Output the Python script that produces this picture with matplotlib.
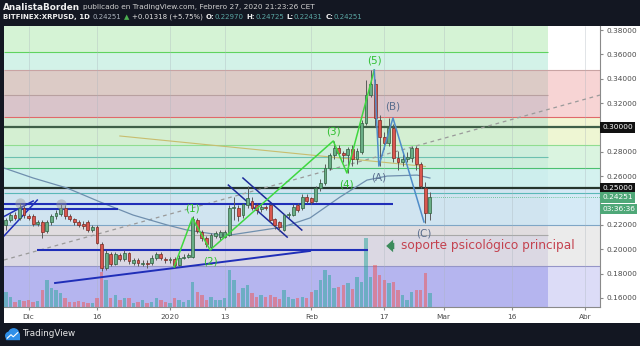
#!/usr/bin/env python3
import matplotlib
matplotlib.use("Agg")
import matplotlib.pyplot as plt
from matplotlib.transforms import blended_transform_factory
from matplotlib.patches import Rectangle, Circle

# Velas diarias XRPUSD (dia 0 = 1 de diciembre de 2019)
dias = list(range(-5, 89))
apertura = [0.220, 0.224, 0.228, 0.226, 0.234, 0.227, 0.227, 0.221, 0.222, 0.215,
            0.222, 0.227, 0.229, 0.234, 0.227, 0.225, 0.222, 0.221, 0.222, 0.216,
            0.218, 0.204, 0.185, 0.196, 0.188, 0.195, 0.192, 0.197, 0.189, 0.191,
            0.188, 0.189, 0.189, 0.193, 0.196, 0.192, 0.191, 0.192, 0.187, 0.193,
            0.194, 0.194, 0.224, 0.214, 0.209, 0.202, 0.211, 0.210, 0.210, 0.212,
            0.234, 0.234, 0.228, 0.236, 0.240, 0.236, 0.233, 0.2345, 0.236, 0.225,
            0.222, 0.216, 0.228, 0.228, 0.236, 0.234, 0.243, 0.242, 0.240, 0.250,
            0.254, 0.267, 0.277, 0.283, 0.279, 0.277, 0.282, 0.274, 0.280, 0.304,
            0.327, 0.336, 0.306, 0.292, 0.287, 0.2995, 0.275, 0.272, 0.274, 0.275,
            0.283, 0.270, 0.250, 0.2297]
maximo = [0.226, 0.230, 0.231, 0.238, 0.236, 0.229, 0.229, 0.224, 0.224, 0.224,
          0.229, 0.232, 0.237, 0.236, 0.229, 0.226, 0.224, 0.223, 0.224, 0.220,
          0.220, 0.206, 0.199, 0.198, 0.198, 0.197, 0.199, 0.198, 0.193, 0.193,
          0.191, 0.191, 0.195, 0.198, 0.198, 0.194, 0.194, 0.194, 0.195, 0.196,
          0.197, 0.227, 0.226, 0.216, 0.211, 0.213, 0.215, 0.216, 0.216, 0.236,
          0.243, 0.236, 0.238, 0.252, 0.243, 0.238, 0.237, 0.236, 0.237, 0.226,
          0.223, 0.229, 0.231, 0.237, 0.238, 0.245, 0.245, 0.243, 0.252, 0.258,
          0.270, 0.279, 0.289, 0.286, 0.281, 0.284, 0.286, 0.283, 0.306, 0.339,
          0.347, 0.340, 0.310, 0.296, 0.308, 0.303, 0.281, 0.278, 0.280, 0.285,
          0.285, 0.272, 0.255, 0.24725]
minimo = [0.216, 0.222, 0.224, 0.224, 0.226, 0.224, 0.219, 0.219, 0.209, 0.213,
          0.220, 0.225, 0.227, 0.225, 0.223, 0.220, 0.218, 0.217, 0.214, 0.214,
          0.204, 0.182, 0.183, 0.186, 0.187, 0.190, 0.190, 0.188, 0.187, 0.186,
          0.186, 0.185, 0.187, 0.191, 0.191, 0.189, 0.189, 0.185, 0.186, 0.192,
          0.193, 0.193, 0.213, 0.207, 0.202, 0.199, 0.209, 0.208, 0.209, 0.211,
          0.224, 0.223, 0.226, 0.234, 0.232, 0.229, 0.231, 0.232, 0.222, 0.217,
          0.215, 0.215, 0.226, 0.227, 0.231, 0.232, 0.238, 0.237, 0.239, 0.248,
          0.253, 0.265, 0.274, 0.276, 0.272, 0.263, 0.268, 0.270, 0.278, 0.302,
          0.325, 0.300, 0.268, 0.282, 0.285, 0.272, 0.265, 0.268, 0.272, 0.272,
          0.265, 0.250, 0.2215, 0.22431]
cierre = [0.224, 0.228, 0.226, 0.234, 0.228, 0.226, 0.221, 0.222, 0.214, 0.222,
          0.227, 0.230, 0.234, 0.227, 0.225, 0.222, 0.220, 0.219, 0.216, 0.218,
          0.205, 0.185, 0.197, 0.188, 0.196, 0.192, 0.197, 0.190, 0.191, 0.189,
          0.189, 0.188, 0.193, 0.196, 0.193, 0.191, 0.192, 0.187, 0.193, 0.194,
          0.195, 0.225, 0.215, 0.209, 0.204, 0.212, 0.213, 0.214, 0.214, 0.234,
          0.235, 0.227, 0.237, 0.242, 0.234, 0.232, 0.235, 0.2335, 0.224, 0.220,
          0.218, 0.228, 0.229, 0.235, 0.232, 0.243, 0.240, 0.239, 0.250, 0.254,
          0.267, 0.277, 0.283, 0.279, 0.277, 0.282, 0.274, 0.281, 0.304, 0.327,
          0.336, 0.308, 0.292, 0.287, 0.2995, 0.275, 0.272, 0.274, 0.276, 0.283,
          0.270, 0.252, 0.2297, 0.24251]
volumen = [15, 10, 5, 7, 6, 7, 5, 6, 17, 27, 19, 17, 14, 9, 5, 5, 6, 5, 4, 4,
           9, 35, 27, 9, 12, 7, 9, 9, 4, 5, 7, 4, 5, 9, 7, 5, 4, 9, 7, 5,
           7, 25, 15, 12, 7, 10, 7, 7, 9, 37, 27, 14, 19, 22, 14, 10, 12, 10, 12, 10,
           8, 17, 10, 8, 9, 10, 9, 15, 17, 27, 37, 32, 19, 20, 22, 24, 18, 30, 25, 69,
           30, 42, 32, 27, 24, 25, 17, 12, 7, 15, 17, 17, 34, 14]

# Media movil (trazada a mano a partir de la imagen)
ma_dias = [-5.4, 1, 8.4, 15.7, 22.9, 30.4, 34.7, 42, 44.2, 55.8, 61.7, 68.3, 74.2, 78.6, 85.2, 88]
ma_precios = [0.2667, 0.2585, 0.2503, 0.2388, 0.2281, 0.2199, 0.2158, 0.2117, 0.2117,
              0.2183, 0.2257, 0.2429, 0.2568, 0.2601, 0.2609, 0.2585]

# Ondas de Elliott
onda_dias = [31.9, 35.9, 39.8, 66.8, 69.8, 75.8]
onda_precios = [0.1854, 0.2257, 0.1994, 0.2889, 0.2626, 0.3472]
onda_etiquetas = ["", "(1)", "(2)", "(3)", "(4)", "(5)"]
abc_dias = [75.8, 76.8, 79.9, 86.7]
abc_precios = [0.3472, 0.2683, 0.3078, 0.2224]
abc_etiquetas = ["", "(A)", "(B)", "(C)"]

# Bandas de fondo (niveles de precio) y colores a izquierda/derecha del corte
niveles = [0.3833, 0.362, 0.3472, 0.3266, 0.3086, 0.2995, 0.2856, 0.2667, 0.2495, 0.2199, 0.2117, 0.186, 0.1526]
colores_izq = ["#d5f3d5", "#d3f2e8", "#dccbc6", "#d9c4ca", "#cfe9cf", "#d4efd2",
               "#cdeedc", "#cdeeed", "#d0e4f0", "#e0dcdf", "#dbd8e3", "#b5b5ef"]
colores_der = ["#ffffff", "#ffffff", "#f7d4d4", "#f7d4d4", "#f1f6d3", "#eef6d3",
               "#daf4e0", "#d4f2ef", "#d5eaf6", "#ebebeb", "#ebebeb", "#dcdcf7"]
lineas_nivel = [(0.362, "#5fd35f", True), (0.3472, "#c9a3a3", False), (0.3266, "#b8a0a0", True),
                (0.3086, "#e06a6a", False), (0.2856, "#90dd90", False), (0.2757, "#6cc0b0", True),
                (0.2667, "#4cc070", False), (0.246, "#5ab8b8", False), (0.2199, "#7fa6c6", False),
                (0.2117, "#a8a8a8", True), (0.186, "#9595c8", False)]

precios_eje = [0.16, 0.18, 0.20, 0.22, 0.24, 0.26, 0.28, 0.30, 0.32, 0.34, 0.36, 0.38]
precios_ocultos = [0.24, 0.30]  # tapados por las cajas de precio
fechas_dias = [0, 15, 31, 43, 62, 78, 91, 106, 122]
fechas_etiquetas = ["Dic", "16", "2020", "13", "Feb", "17", "Mar", "16", "Abr"]

X_INI, X_CORTE, X_FIN = -5.4, 113.9, 125.3
Y_MIN, Y_MAX = niveles[-1], niveles[0]
ANCHO, ALTO = 640, 346
FONDO = "#131722"


def fx(px):
    return px / ANCHO


def fy(py):
    return 1 - py / ALTO


fig = plt.figure(figsize=(6.4, 3.46), dpi=100, facecolor=FONDO)
fig.add_artist(Rectangle((fx(4), fy(323)), 636 / ANCHO, 297 / ALTO, transform=fig.transFigure,
                         facecolor="white", edgecolor="none", zorder=0))
ax = fig.add_axes([fx(4), fy(307), 596 / ANCHO, 281 / ALTO])
ax.set_facecolor("white")

# Bandas de colores
for i in range(len(colores_izq)):
    hi, lo = niveles[i], niveles[i + 1]
    ax.fill_between([X_INI, X_CORTE], lo, hi, color=colores_izq[i], lw=0, zorder=0)
    ax.fill_between([X_CORTE, X_FIN], lo, hi, color=colores_der[i], lw=0, zorder=0)
for nivel, color, solo_izq in lineas_nivel:
    ax.hlines(nivel, X_INI, X_CORTE if solo_izq else X_FIN, colors=color, lw=0.8, zorder=1)
ax.vlines(fechas_dias, Y_MIN, Y_MAX, colors="#aab4bc", lw=0.5, alpha=0.5, zorder=1)
ax.hlines([0.30, 0.25], X_INI, X_FIN, colors=["#3f5f48", "#25352c"], lw=1.6, zorder=2)

# Volumen en la parte baja del panel
trans_vol = blended_transform_factory(ax.transData, ax.transAxes)
col_vol = ["#26a69a" if c >= o else "#ef5350" for o, c in zip(apertura, cierre)]
ax.bar(dias, [v / 281 for v in volumen], width=0.75, bottom=0, color=col_vol, alpha=0.5,
       transform=trans_vol, zorder=2)

# Lineas de analisis
ax.plot([X_INI, X_FIN], [0.1912, 0.3266], color="#9a9a9a", lw=0.9, ls=(0, (3, 3)), zorder=3)
ax.plot([20, 87], [0.293, 0.268], color="#c8bd6e", lw=0.8, zorder=3)
ax.plot(ma_dias, ma_precios, color="#6f8fae", lw=0.9, zorder=3)
azul = "#1f2eb8"
ax.hlines(0.2371, X_INI, 79.9, colors=azul, lw=1.5, zorder=3)
ax.hlines(0.2330, X_INI, 19.6, colors=azul, lw=1.5, zorder=3)
ax.hlines(0.1994, 1.9, 74.4, colors=azul, lw=1.5, zorder=3)
ax.plot([5.8, 61.7], [0.1723, 0.1986], color=azul, lw=1.4, zorder=3)
ax.plot([-5.6, 1.9], [0.2101, 0.2404], color=azul, lw=1.1, zorder=3)
ax.plot([-5.6, 1.0], [0.2265, 0.2396], color=azul, lw=1.1, zorder=3)
ax.plot([43.8, 56.7], [0.2527, 0.2100], color="#1d2a9a", lw=1.1, zorder=3)
ax.plot([47.0, 59.9], [0.2585, 0.2158], color="#1d2a9a", lw=1.1, zorder=3)

# Velas
sube = [c >= o for o, c in zip(apertura, cierre)]
ax.vlines(dias, minimo, maximo, colors="#5a5a5a", lw=0.7, zorder=4)
bases = [min(o, c) for o, c in zip(apertura, cierre)]
alturas = [max(abs(c - o), 0.0008) for o, c in zip(apertura, cierre)]
ax.bar(dias, alturas, bottom=bases, width=0.62,
       color=["#6aae86" if s else "#d9574f" for s in sube],
       edgecolor=["#2e5e3e" if s else "#7a2a22" for s in sube], linewidth=0.5, zorder=5)
ax.scatter([dias[3], dias[12]], [maximo[3], maximo[12]], s=55, color="#9a9a9a", alpha=0.45, lw=0, zorder=6)

# Ondas
ax.plot(onda_dias, onda_precios, color="#3fd83f", lw=1.1, zorder=6)
ax.plot(abc_dias, abc_precios, color="#4f8cc9", lw=1.1, zorder=6)
for i, (d, p, t) in enumerate(zip(onda_dias, onda_precios, onda_etiquetas)):
    if t:
        dy = 7 if i % 2 == 1 else -8
        ax.annotate(t, (d, p), xytext=(0, dy), textcoords="offset points", ha="center",
                    va="center", fontsize=7.5, color="#2fbf2f", zorder=7)
for i, (d, p, t) in enumerate(zip(abc_dias, abc_precios, abc_etiquetas)):
    if t:
        dy = 8 if t == "(B)" else -8
        ax.annotate(t, (d, p), xytext=(0, dy), textcoords="offset points", ha="center",
                    va="center", fontsize=7.5, color="#5a6e8e", zorder=7)

# Texto de soporte
ax.annotate("", xy=(77.8, 0.2027), xytext=(80.8, 0.2027),
            arrowprops=dict(arrowstyle="simple,head_length=0.5,head_width=0.9,tail_width=0.45",
                            color="#3c8b5c", lw=0), zorder=7)
ax.text(81.7, 0.2027, "soporte psicológico principal", color="#c4424f", fontsize=8.7,
        va="center", ha="left", zorder=7)

# Linea de precio actual
ax.hlines(cierre[-1], dias[-1], X_FIN, colors="#53b987", lw=0.6, ls=(0, (1, 1.5)), zorder=3)

# Ejes
ax.set_xlim(X_INI, X_FIN)
ax.set_ylim(Y_MIN, Y_MAX)
ax.yaxis.tick_right()
ax.set_yticks(precios_eje)
ax.set_yticklabels(["" if p in precios_ocultos else f"{p:.5f}" for p in precios_eje])
ax.set_xticks(fechas_dias)
ax.set_xticklabels(fechas_etiquetas)
ax.tick_params(axis="y", labelsize=5.3, colors="#8a8a8a", labelcolor="#4a4a4a", length=2.5, pad=2)
ax.tick_params(axis="x", labelsize=5.3, colors="#8a8a8a", labelcolor="#4a4a4a", length=2, pad=3)
for lado in ["top", "left"]:
    ax.spines[lado].set_visible(False)
for lado in ["right", "bottom"]:
    ax.spines[lado].set_color("#8a8a8a")
    ax.spines[lado].set_linewidth(0.8)

trans_y = blended_transform_factory(ax.transAxes, ax.transData)
cajas = [(0.30, "0.30000", "#111111"), (0.25, "0.25000", "#111111"),
         (cierre[-1], f"{cierre[-1]:.5f}", "#4fa878"), (0.2330, "03:36:36", "#4fa878")]
for p, t, fc in cajas:
    ax.text(1.004, p, t, transform=trans_y, ha="left", va="center", fontsize=5.3, color="white",
            bbox=dict(boxstyle="square,pad=0.3", fc=fc, ec="none"), clip_on=False, zorder=10)

# Cabecera
render = fig.canvas.get_renderer()


def linea_texto(partes, x, y):
    for s, color, peso, size, gap in partes:
        t = fig.text(fx(x), fy(y), s, color=color, fontsize=size, fontweight=peso,
                     ha="left", va="center")
        x = t.get_window_extent(renderer=render).x1 + gap


linea_texto([("AnalistaBorden", "#f0f0f0", "bold", 6.4, 3),
             ("publicado en TradingView.com, Febrero 27, 2020 21:23:26 CET", "#d0d0d0", "normal", 5.3, 0)], 3, 7)
blanco = "#f0f0f0"
verde_val = "#5aa6a3"
linea_texto([("BITFINEX:XRPUSD, 1D", blanco, "bold", 5.0, 3),
             ("0.24251", "#a9b1bb", "normal", 5.0, 2.5),
             ("▲", "#4caf50", "normal", 5.0, 2.5),
             ("+0.01318 (+5.75%)", "#e0e0e0", "normal", 5.0, 3),
             ("O:", blanco, "bold", 5.0, 0.3), ("0.22970", verde_val, "normal", 5.0, 2.5),
             ("H:", blanco, "bold", 5.0, 0.3), ("0.24725", verde_val, "normal", 5.0, 2.5),
             ("L:", blanco, "bold", 5.0, 0.3), ("0.22431", verde_val, "normal", 5.0, 2.5),
             ("C:", blanco, "bold", 5.0, 0.3), ("0.24251", verde_val, "normal", 5.0, 0)], 3, 17)

# Pie con logo
logo = fig.add_axes([fx(5), fy(341), 15 / ANCHO, 14 / ALTO])
logo.set_xlim(0, 1)
logo.set_ylim(0, 1)
logo.axis("off")
for cx, cy, r in [(0.3, 0.38, 0.25), (0.58, 0.55, 0.32), (0.82, 0.35, 0.2)]:
    logo.add_patch(Circle((cx, cy), r, color="#2f8fe8"))
logo.add_patch(Rectangle((0.08, 0.12), 0.9, 0.25, color="#2f8fe8"))
logo.plot([0.15, 0.4, 0.55, 0.85], [0.2, 0.45, 0.3, 0.6], color="white", lw=0.8)
fig.text(fx(22), fy(334), "TradingView", color="#e8e8e8", fontsize=6.3, ha="left", va="center")

fig.savefig("out.png", dpi=100, facecolor=FONDO)
